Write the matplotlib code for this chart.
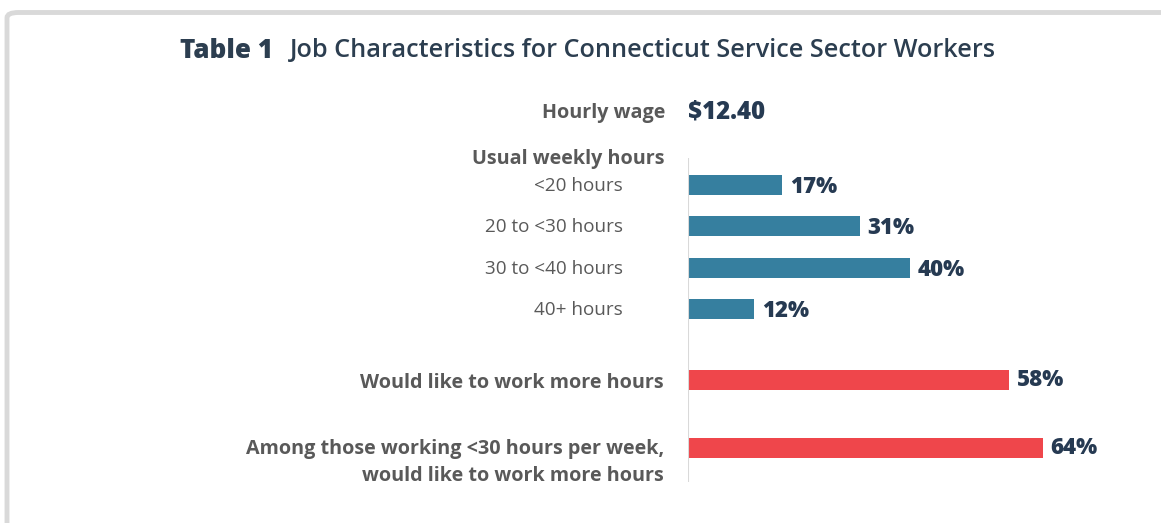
import numpy as np
import matplotlib
matplotlib.use("Agg")
import matplotlib.pyplot as plt
from matplotlib.patches import FancyBboxPatch

# Data
wage_label = "Hourly wage"
wage_value = "$12.40"
hours_header = "Usual weekly hours"
hours_labels = ["<20 hours", "20 to <30 hours", "30 to <40 hours", "40+ hours"]
hours_values = [17, 31, 40, 12]
more_labels = ["Would like to work more hours",
               "Among those working <30 hours per week,\nwould like to work more hours"]
more_values = [58, 64]

BLUE = "#367f9f"
RED = "#ef464b"
NAVY = "#263a52"
GRAY = "#595959"
W, H = 1161, 523
PX_PER_PCT = 5.54
X0 = 688
DY = 2  # small nudge so text sits on the row centre

plt.rcParams["font.family"] = ["Open Sans", "DejaVu Sans"]

fig = plt.figure(figsize=(W / 100, H / 100), dpi=100)
ax = fig.add_axes([X0 / W, 0, 1 - X0 / W, 1])
ax.set_xlim(0, (W - X0) / PX_PER_PCT)
ax.set_ylim(H, 0)  # y in pixel rows
ax.axis("off")

# frame around the panel
frame = FancyBboxPatch((7 / W, -0.1), 1.2, 1.1 - 12.5 / H,
                       boxstyle="round,pad=0,rounding_size=0.01",
                       transform=fig.transFigure, fill=False,
                       edgecolor="#d9d9d9", linewidth=3.5, clip_on=False)
fig.patches.append(frame)

# title
fig.text(180 / W, 1 - 51 / H, "Table 1", fontsize=18.8, fontweight=800,
         color="#2c3e50", va="center", ha="left")
fig.text(290 / W, 1 - 51 / H, "Job Characteristics for Connecticut Service Sector Workers",
         fontsize=18.2, fontweight="semibold", color="#2c3e50", va="center", ha="left")

lab_x = (665 - X0) / PX_PER_PCT
cat_x = (623 - X0) / PX_PER_PCT

# wage row
ax.text(lab_x, 111 + DY, wage_label, ha="right", va="center", fontsize=14.2,
        fontweight="bold", color=GRAY, clip_on=False)
ax.text(0, 110 + DY, wage_value, ha="left", va="center", fontsize=17.3,
        fontweight=800, color=NAVY, clip_on=False)

# axis line
ax.plot([0, 0], [158, 482], color="#d9d9d9", lw=1.5, solid_capstyle="butt")

# usual weekly hours
ax.text(lab_x, 157 + DY, hours_header, ha="right", va="center", fontsize=14.2,
        fontweight="bold", color=GRAY, clip_on=False)
hours_y = 185 + 41.3 * np.arange(len(hours_values))
ax.barh(hours_y, hours_values, height=20, color=BLUE, left=0)
for y, lab, v in zip(hours_y, hours_labels, hours_values):
    ax.text(cat_x, y - 1 + DY, lab, ha="right", va="center", fontsize=13.6,
            fontweight="normal", color=GRAY, clip_on=False)
    ax.text(v + 1.4, y + DY, f"{v}%", ha="left", va="center", fontsize=16,
            fontweight=800, color=NAVY, clip_on=False)

# would like more hours
more_y = np.array([379.5, 447.5])
ax.barh(more_y, more_values, height=20, color=RED, left=0)
ax.text(lab_x - 0.2, more_y[0] + 2 + DY, more_labels[0], ha="right", va="center",
        fontsize=14.2, fontweight="bold", color=GRAY, clip_on=False)
ax.text(lab_x - 0.2, more_y[1] + 13 + DY, more_labels[1], ha="right", va="center",
        fontsize=14.2, fontweight="bold", color=GRAY, linespacing=1.45,
        clip_on=False)
for y, v in zip(more_y, more_values):
    ax.text(v + 1.4, y - 2 + DY, f"{v}%", ha="left", va="center", fontsize=16,
            fontweight=800, color=NAVY, clip_on=False)

fig.savefig("out.png", dpi=100)
